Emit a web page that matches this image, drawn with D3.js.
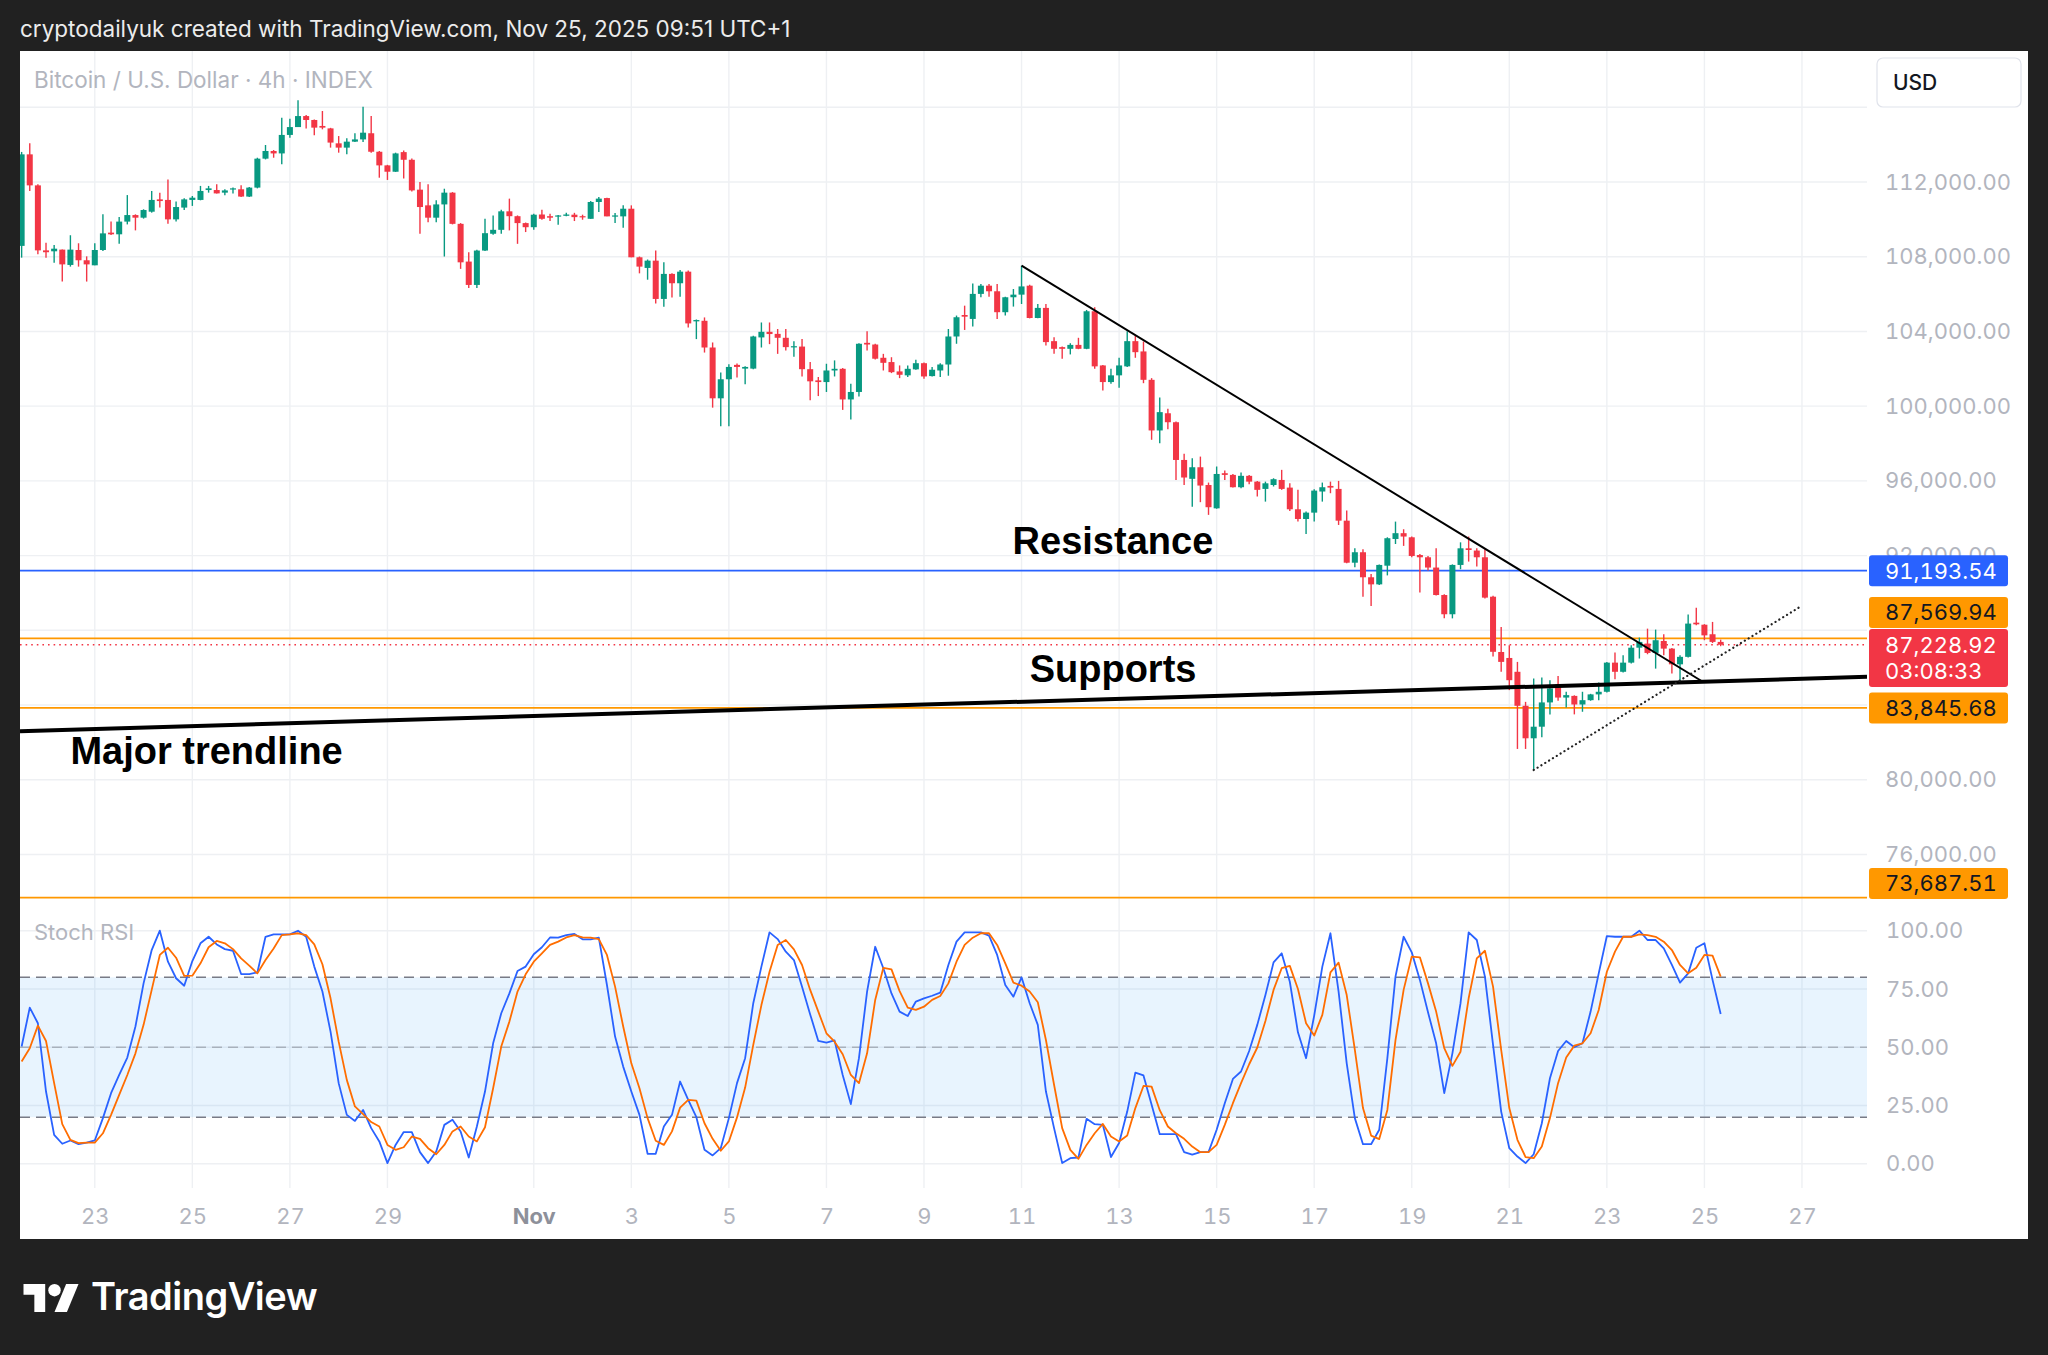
<!DOCTYPE html>
<html>
<head>
<meta charset="utf-8">
<script src="https://cdn.jsdelivr.net/npm/d3@7"></script>
<style>
  html, body { margin: 0; padding: 0; background: #212121; }
  svg { display: block; }
  text { font-family: Inter, "Noto Sans", sans-serif; }
  .num { font-variant-numeric: tabular-nums; font-feature-settings: "tnum"; }
</style>
</head>
<body>
<svg id="chart" width="2048" height="1355"></svg>
<script>
// BTC/USD 4h candles, first one opens Oct 21 2025 12:00
const START = Date.UTC(2025, 9, 21, 12);
const FOUR_H = 4 * 3600 * 1000;

const candleOpen = [
  108580,113480,111820,108340,108290,108380,107560,108360,107810,107540,
  108360,109290,109200,109880,110230,110090,110410,111070,111040,110000,
  110630,111040,111040,111570,111570,111430,111610,111610,111220,111700,
  113250,113660,113530,114520,114940,115530,115320,115000,114870,114070,
  113840,114160,114280,114610,113620,112890,112550,113600,113190,111590,
  110750,110090,110800,111430,109760,107740,106490,108330,109230,109440,
  110430,110170,109800,109580,110260,110170,110170,110190,110250,110170,
  110030,110930,111140,110160,110160,110570,107970,107400,107790,105740,
  107080,106580,107200,104540,104570,103140,100420,101440,102210,102010,
  102010,103680,103980,103870,103660,103160,103190,101980,101380,101290,
  101910,102000,100360,100760,103390,103300,102590,102360,101860,101650,
  101970,102300,101610,101910,102230,103730,104880,104670,106010,106450,
  106150,105030,105830,105970,106450,104720,105260,103480,103160,103070,
  103280,103070,105080,102180,101290,101650,102130,103480,102930,101410,
  98700,99620,99140,97120,96110,96730,95780,94530,96410,96320,
  95660,96270,95960,95570,95780,96050,95640,94480,93960,94300,
  95430,95730,95570,93870,91620,92180,90840,90460,91460,92890,
  93200,92980,92030,91910,91360,89890,88860,91500,92390,92270,
  91910,89800,86840,86520,85780,83960,82220,82840,84140,85100,
  84400,84490,84030,84260,84570,84710,86270,85780,86270,87070,
  87290,86790,87430,87020,86180,86580,88410,88300,87790,87380
];
const candleHigh = [
  113610,114070,111880,108750,108630,108380,109150,108720,108020,108720,
  110270,109880,110130,111300,110270,110540,111520,111430,112140,110950,
  111130,111250,111790,111790,111880,111610,111700,111820,111730,113300,
  113980,113710,115440,115390,116370,115590,115350,115800,114900,114460,
  114340,114610,116030,115530,113660,112920,113570,113690,113260,112000,
  111880,111020,111640,111460,109800,108240,108370,110030,110210,110520,
  111110,110210,109830,110300,110520,110300,110230,110350,110350,110250,
  110980,111200,111160,110340,110750,110750,108010,107850,108330,107700,
  107110,107290,107260,104640,104750,103410,101800,102240,102280,102140,
  103770,104480,104480,104130,104130,103480,103600,102360,101560,102270,
  102450,102040,101200,103370,104010,103340,102800,102620,102180,102180,
  102480,102340,102090,102300,104130,104850,105380,106570,106540,106540,
  106540,105860,106270,107520,106500,105470,105470,103690,103190,103370,
  103660,105150,105290,102210,102000,102590,104010,103780,103460,101500,
  100460,99860,99180,97450,97210,97300,95910,96770,96550,96370,
  96450,96320,96000,95960,96140,96590,95870,95520,94360,95550,
  95910,95960,96000,94410,92390,92340,91020,91530,92980,93820,
  93410,93020,92090,91980,92390,89930,91530,92710,93020,92390,
  92340,89850,88180,87200,86310,84170,85420,85470,85330,85560,
  84710,84520,84710,84600,85210,86310,86810,86670,87200,87610,
  88090,88040,87790,87060,86670,88850,89210,88330,88450,87500
];
const candleLow = [
  107950,111520,108130,107950,107680,106670,107470,107470,106670,107540,
  108310,109160,108700,109730,109410,110040,110360,110630,109770,109880,
  110500,110720,111020,111430,111380,111290,111390,111200,111200,111660,
  113210,113300,112950,114370,114940,114870,114500,114820,113840,113570,
  113480,114140,114140,113570,112230,112110,112540,112190,111490,109230,
  109850,109850,108010,109730,107350,106330,106330,108300,109170,109230,
  109410,108690,109320,109440,109980,109910,109710,110160,109910,109980,
  110030,110390,110160,109800,109550,107970,107110,106770,105500,105320,
  105820,105860,104210,103590,102870,99920,98930,98930,101530,101170,
  101980,103140,103320,102800,102980,102650,101590,100310,100540,100760,
  101590,99800,99280,100520,102980,102500,101910,101770,101500,101560,
  101950,101470,101590,101560,101630,103340,104080,104260,105830,105860,
  104670,104850,105330,105470,104700,104700,103250,102800,102540,102770,
  103050,103050,102000,100840,101200,100990,102100,102590,101230,98200,
  98020,98770,96050,95780,94620,94860,94180,94510,96050,95640,
  95610,95820,95160,94890,95700,95520,94390,93820,93160,93820,
  94890,95340,93640,91590,91370,89800,89300,90430,90940,92620,
  92520,91910,90030,91200,89860,88640,88640,91270,91680,91410,
  89710,86600,85780,84800,81650,81650,80520,82270,83500,84230,
  83870,83500,83640,84230,84260,84670,85380,85740,86220,86490,
  86720,85950,86670,85690,85290,86540,88270,87470,87320,87150
];
const candleClose = [
  113480,111820,108340,108240,108430,107590,108380,107810,107590,108360,
  109250,109200,109880,110230,110090,110500,111040,110980,110000,110660,
  111070,111160,111520,111660,111390,111550,111660,111220,111700,113250,
  113660,113530,114520,114940,115530,115320,114910,114910,114110,113840,
  114160,114280,114640,113620,112890,112550,113530,113190,111550,110660,
  110090,110800,111430,109760,107700,106490,108330,109260,109440,110430,
  110170,109800,109580,110250,110030,110090,110210,110260,110120,110120,
  110930,111110,110160,110210,110570,107970,107470,107790,105740,107080,
  106580,107200,104430,104610,103140,100420,101440,102100,102100,102100,
  103730,103980,103860,103660,103160,103210,101980,101330,101290,101910,
  102000,100360,100760,103340,103300,102540,102320,101820,101680,102000,
  102300,101590,101950,102230,103730,104760,104790,106010,106450,106150,
  105030,105830,105970,106410,104720,105260,103430,103070,103070,103280,
  103070,105080,102130,101290,101650,102180,103480,102890,101410,98700,
  99680,99140,97120,96180,96730,95750,94590,96370,96320,95660,
  96270,95960,95520,95870,96090,95570,94480,93960,94300,95480,
  95660,95640,93870,91620,92180,90840,90460,91500,92930,93200,
  93020,91980,91910,91360,89890,88860,91500,92390,92300,91910,
  89750,86850,86310,85330,83960,82220,82840,84140,84890,84400,
  84530,84030,84260,84570,84710,86270,85780,86270,87070,87380,
  86790,87470,87020,86180,86580,88360,88320,87730,87380,87228.92
];

// Stoch RSI %K and %D, one value per candle
const stochK = [
  50.3,67,60.3,31,12.4,8.6,10,8.4,9.1,10,
  19.6,30.3,38.1,45.6,58.9,77.4,91.7,100,86.7,79.6,
  76.4,87,94.6,97.4,94.1,92.1,91.4,81.4,81.4,82.1,
  97.4,98.4,98.4,98.4,100,97.4,84.6,73.9,56.7,34.6,
  21,18.4,23.1,15.3,9.6,0.3,8.1,13.6,13.6,5,
  0.3,5.3,16.7,18.9,13.9,2.7,16,31,51.7,64.6,
  73.1,82.7,84.6,89.9,92.9,97.1,97,98.1,98.6,96.3,
  96.3,97,76.7,54.6,41.7,31,21,4.3,4.3,16,
  21,35.3,27.4,20,6,3.6,6.7,19.6,34.6,45.3,
  68.9,84.6,99.3,96.4,91,87.4,76,64.1,52.7,52,
  52.9,38.1,25.6,45.3,73.9,93.1,83.9,73.1,65.3,63.4,
  69.6,71,72.1,73.4,85.3,95.3,99.3,99.3,99.3,97.9,
  89.6,76.7,71.7,80,68.9,59.6,31,15.3,0.3,2.4,
  2.7,19.3,17,16.7,2.9,8.9,22.4,39.1,37.9,25.3,
  12.7,12.7,12.7,5,3.9,5,5,14.6,26,36.4,
  39.6,48.4,59.6,72.4,86.4,90.3,78.1,56.4,45.3,63.6,
  84.6,98.9,73.9,43.1,19.6,8.4,8.4,14.6,45.3,80.3,
  97.4,90.7,78.9,65,51.7,30.3,47.4,68.9,99.3,96,
  80.3,51,22.4,6.7,3.1,0.3,4.1,17.4,36.7,48.4,
  52.7,50,51.7,65.3,81.7,97.7,97.4,97.4,97.4,100,
  96,96,92.4,85.3,77.7,81.7,92.7,94.6,78.9,64.3
];
const stochD = [
  43.9,49.6,59.3,52.7,34.6,17,10.3,8.9,9.1,9.1,
  13.1,21,29.6,38.1,47.4,59.6,74.6,89.6,92.7,88.4,
  80.6,80.7,86,92.9,95.6,94.6,92.1,88.1,85,81.7,
  87.4,92.4,98.1,98.4,98.9,98.1,94.1,85.6,71,52.4,
  36,24.6,21.3,17.9,16,8.1,6,7.1,11.7,10.7,
  6.7,4.1,8.1,13.9,16,11.7,9.6,15.7,32.4,50.3,
  61,73.9,81.3,86.7,90.3,93.9,95.3,97.1,98.1,97.1,
  97,96.4,89.6,76,58.9,43.1,32.4,19.6,9.9,8.1,
  13.9,24.1,27.4,27.1,17.4,10.7,5.6,9.6,19.9,32.7,
  51,68.1,82.4,93.9,96,92,85.3,74.6,65.3,56,
  52.4,47,38.1,34.6,47.4,70.3,84.1,83.4,74.1,67,
  66,67.4,70.3,72,77.4,86.7,93.9,97,98.9,98.9,
  93.9,86,77.7,76.4,73.9,69.3,53.1,33.9,15.3,6,
  2.1,8.1,13.1,17.1,11.7,9.6,12.1,23.9,33.4,33.1,
  23,16,13.1,10.7,7.4,5,5,8.1,16.7,26,
  34.6,42.7,49.9,61.3,74.6,83.9,84.9,75,60.3,55,
  63.9,82.1,86.3,72.4,48.9,23.9,12.1,10.6,23.1,53.1,
  74.6,88.9,88.6,77.4,65.3,49.6,42,48.1,71,88.1,
  91.4,76,48.9,23.9,10.3,2.9,2.4,7.4,19.6,34.6,
  45.6,50.7,51.7,56,66,82.4,91,97.4,97.4,98.4,
  98.1,97.4,95.3,91.7,85.3,81.7,84.1,89.6,89.3,80.3
];

const priceGridTicks = [76000, 80000, 84000, 88000, 92000, 96000, 100000, 104000, 108000, 112000, 116000];
// 84k and 88k sit under the level tags, 116k under the currency box
const priceLabelTicks = [76000, 80000, 92000, 96000, 100000, 104000, 108000, 112000];
const stochTicks = [0, 25, 50, 75, 100];
const stochBands = [20, 50, 80];
const dateTicks = ['2025-10-23', '2025-10-25', '2025-10-27', '2025-10-29', '2025-11-01', '2025-11-03',
  '2025-11-05', '2025-11-07', '2025-11-09', '2025-11-11', '2025-11-13', '2025-11-15', '2025-11-17',
  '2025-11-19', '2025-11-21', '2025-11-23', '2025-11-25', '2025-11-27'];

// horizontal levels drawn on the chart
const resistanceLevels = [91193.54];
const supportLevels = [87569.94, 83845.68, 73687.51];
const countdown = '03:08:33';

// drawn trendlines, anchors as [candle index, price]
const resistanceLine = [[123, 107519], [206.6, 85300]];
const majorTrendline = [[-0.2, 82600], [227, 85510]];
const risingDotted = [[186, 80524], [218.8, 89266]];

// text notes, anchors as [candle index, price of baseline]
const notes = [
  { text: 'Resistance', at: [121.9, 92090] },
  { text: 'Supports', at: [124, 85235] },
  { text: 'Major trendline', at: [6, 80846] }
];

const UP = '#089981', DOWN = '#f23645', BLUE = '#2962ff', ORANGE = '#ff9800';
const AXIS_TEXT = '#b2b5be', GRID = '#eef0f3';

const svg = d3.select('#chart');
const plot = { left: 20, right: 1867 };
const pricePane = { top: 51, bottom: 900 };
const stochPane = { top: 903, bottom: 1188 };

const timeAt = k => new Date(START + k * FOUR_H);
const x = d3.scaleUtc().domain([timeAt(-0.2), timeAt(227)]).range([plot.left, plot.right]);
const y = d3.scaleLinear().domain([73563, 119013]).range([pricePane.bottom, pricePane.top]);
const ys = d3.scaleLinear().domain([0, 100]).range([1163.8, 930.7]);
const xi = k => x(timeAt(k));

// frame
svg.append('rect').attr('width', 2048).attr('height', 1355).attr('fill', '#212121');
svg.append('rect').attr('x', 20).attr('y', 51).attr('width', 2008).attr('height', 1188).attr('fill', '#ffffff');

svg.append('text').attr('x', 20).attr('y', 36.5).attr('fill', '#ececec')
  .style('font-size', '22.5px')
  .text('cryptodailyuk created with TradingView.com, Nov 25, 2025 09:51 UTC+1');

const defs = svg.append('defs');
defs.append('clipPath').attr('id', 'clipPrice').append('rect')
  .attr('x', plot.left).attr('y', pricePane.top)
  .attr('width', plot.right - plot.left).attr('height', pricePane.bottom - pricePane.top);
defs.append('clipPath').attr('id', 'clipStoch').append('rect')
  .attr('x', plot.left).attr('y', stochPane.top)
  .attr('width', plot.right - plot.left).attr('height', stochPane.bottom - stochPane.top);

// grid
const dates = dateTicks.map(s => new Date(s + 'T00:00:00Z'));
const grid = svg.append('g');
grid.selectAll('.vgrid').data(dates).enter().append('line')
  .attr('x1', d => x(d)).attr('x2', d => x(d))
  .attr('y1', pricePane.top).attr('y2', stochPane.bottom)
  .attr('stroke', GRID).attr('stroke-width', 1.4);
grid.selectAll('.pgrid').data(priceGridTicks).enter().append('line')
  .attr('x1', plot.left).attr('x2', plot.right)
  .attr('y1', d => y(d)).attr('y2', d => y(d))
  .attr('stroke', GRID).attr('stroke-width', 1.4);
grid.selectAll('.sgrid').data(stochTicks).enter().append('line')
  .attr('x1', plot.left).attr('x2', plot.right)
  .attr('y1', d => ys(d)).attr('y2', d => ys(d))
  .attr('stroke', GRID).attr('stroke-width', 1.4);

// level lines
const price = svg.append('g').attr('clip-path', 'url(#clipPrice)');
const lastPrice = candleClose[candleClose.length - 1];
price.selectAll('.res').data(resistanceLevels).enter().append('line')
  .attr('x1', plot.left).attr('x2', plot.right).attr('y1', d => y(d)).attr('y2', d => y(d))
  .attr('stroke', BLUE).attr('stroke-width', 1.6);
price.selectAll('.sup').data(supportLevels).enter().append('line')
  .attr('x1', plot.left).attr('x2', plot.right).attr('y1', d => y(d)).attr('y2', d => y(d))
  .attr('stroke', ORANGE).attr('stroke-width', 1.8);
price.append('line')
  .attr('x1', plot.left).attr('x2', plot.right).attr('y1', y(lastPrice)).attr('y2', y(lastPrice))
  .attr('stroke', DOWN).attr('stroke-width', 1.6).attr('stroke-dasharray', '1.6 4');

// candles
const candles = candleOpen.map((o, i) => ({
  t: timeAt(i), o: o, h: candleHigh[i], l: candleLow[i], c: candleClose[i]
}));
const step = xi(1) - xi(0);
const bodyW = step * 0.74;
const cg = price.selectAll('.candle').data(candles).enter().append('g')
  .attr('fill', d => d.c >= d.o ? UP : DOWN)
  .attr('stroke', d => d.c >= d.o ? UP : DOWN);
cg.append('line')
  .attr('x1', d => x(d.t)).attr('x2', d => x(d.t))
  .attr('y1', d => y(d.h)).attr('y2', d => y(d.l))
  .attr('stroke-width', 1.4);
cg.append('rect')
  .attr('x', d => x(d.t) - bodyW / 2).attr('width', bodyW)
  .attr('y', d => y(Math.max(d.o, d.c)))
  .attr('height', d => Math.max(1.2, Math.abs(y(d.o) - y(d.c))))
  .attr('stroke', 'none');

// trendlines
const seg = (pts) => d3.line().x(p => xi(p[0])).y(p => y(p[1]))(pts);
price.append('path').attr('d', seg(resistanceLine))
  .attr('fill', 'none').attr('stroke', '#000').attr('stroke-width', 2);
price.append('path').attr('d', seg(majorTrendline))
  .attr('fill', 'none').attr('stroke', '#000').attr('stroke-width', 4);
price.append('path').attr('d', seg(risingDotted))
  .attr('fill', 'none').attr('stroke', '#222').attr('stroke-width', 2.2)
  .attr('stroke-linecap', 'round').attr('stroke-dasharray', '0.1 4.4');

price.selectAll('.note').data(notes).enter().append('text')
  .attr('x', d => xi(d.at[0])).attr('y', d => y(d.at[1]))
  .attr('fill', '#000')
  .style('font-family', '"Liberation Sans", Arial, sans-serif')
  .style('font-weight', 700).style('font-size', '38px')
  .text(d => d.text);

svg.append('text').attr('x', 34).attr('y', 88).attr('fill', AXIS_TEXT)
  .style('font-size', '22.5px').text('Bitcoin / U.S. Dollar · 4h · INDEX');

// stoch rsi pane
const stoch = svg.append('g').attr('clip-path', 'url(#clipStoch)');
stoch.append('rect')
  .attr('x', plot.left).attr('width', plot.right - plot.left)
  .attr('y', ys(80)).attr('height', ys(20) - ys(80))
  .attr('fill', 'rgba(33,150,243,0.1)');
stoch.selectAll('.band').data(stochBands).enter().append('line')
  .attr('x1', plot.left).attr('x2', plot.right).attr('y1', d => ys(d)).attr('y2', d => ys(d))
  .attr('stroke', d => d === 50 ? 'rgba(120,123,134,0.5)' : '#787b86')
  .attr('stroke-width', 1.6).attr('stroke-dasharray', '10 6');
const stochLine = d3.line().x((d, i) => xi(i)).y(d => ys(d));
stoch.append('path').attr('d', stochLine(stochK))
  .attr('fill', 'none').attr('stroke', BLUE).attr('stroke-width', 1.8).attr('stroke-linejoin', 'round');
stoch.append('path').attr('d', stochLine(stochD))
  .attr('fill', 'none').attr('stroke', '#ff6d00').attr('stroke-width', 1.8).attr('stroke-linejoin', 'round');

svg.append('text').attr('x', 34).attr('y', 940).attr('fill', AXIS_TEXT)
  .style('font-size', '22px').text('Stoch RSI');

// axes
const fmt = d3.format(',.2f');
const priceAxis = svg.append('g').attr('transform', 'translate(1885,0)')
  .call(d3.axisRight(y).tickValues(priceLabelTicks).tickFormat(fmt).tickSize(0).tickPadding(0));
const stochAxis = svg.append('g').attr('transform', 'translate(1886,0)')
  .call(d3.axisRight(ys).tickValues(stochTicks).tickFormat(fmt).tickSize(0).tickPadding(0));
const timeAxis = svg.append('g').attr('transform', 'translate(0,' + stochPane.bottom + ')')
  .call(d3.axisBottom(x).tickValues(dates).tickSize(0).tickPadding(0)
    .tickFormat(d => d.getUTCDate() === 1 ? d3.utcFormat('%b')(d) : d.getUTCDate()));
[priceAxis, stochAxis, timeAxis].forEach(a => {
  a.select('.domain').remove();
  a.selectAll('text').attr('fill', AXIS_TEXT).attr('class', 'num')
    .style('font-family', 'Inter, "Noto Sans", sans-serif').style('font-size', '22px');
});
timeAxis.selectAll('text').attr('y', 28).attr('dy', '0.35em')
  .style('font-weight', d => d.getUTCDate() === 1 ? 700 : 400)
  .attr('fill', d => d.getUTCDate() === 1 ? '#8d909a' : AXIS_TEXT);

// price tags on the scale: the live price one stays, the others move out of its way
const boxH = 31;
const live = { top: y(lastPrice) - 15.7, h: 58 };
const levelTags = resistanceLevels.map(p => ({ p: p, fill: BLUE, ink: '#ffffff' }))
  .concat(supportLevels.map(p => ({ p: p, fill: ORANGE, ink: '#131722' })));
levelTags.forEach(tg => {
  let top = y(tg.p) - boxH / 2;
  if (top < live.top + live.h + 1 && top + boxH > live.top - 1) {
    top = y(tg.p) < y(lastPrice) ? live.top - 1 - boxH : live.top + live.h + 1;
  }
  top = Math.min(top, pricePane.bottom - 1 - boxH);
  tg.top = top;
});
const tags = svg.append('g');
const tagX = 1869, tagW = 139;
levelTags.forEach(tg => {
  tags.append('rect').attr('x', tagX).attr('y', tg.top).attr('width', tagW).attr('height', boxH)
    .attr('rx', 3).attr('fill', tg.fill);
  tags.append('text').attr('class', 'num').attr('x', 1885).attr('y', tg.top + boxH / 2).attr('dy', '0.36em')
    .attr('fill', tg.ink).style('font-size', '22px').text(fmt(tg.p));
});
tags.append('rect').attr('x', tagX).attr('y', live.top).attr('width', tagW).attr('height', live.h)
  .attr('rx', 3).attr('fill', DOWN);
tags.append('text').attr('class', 'num').attr('x', 1885).attr('y', y(lastPrice)).attr('dy', '0.36em')
  .attr('fill', '#fff').style('font-size', '22px').text(fmt(lastPrice));
tags.append('text').attr('class', 'num').attr('x', 1885).attr('y', y(lastPrice) + 26.5).attr('dy', '0.36em')
  .attr('fill', '#fff').style('font-size', '22px').text(countdown);

// currency box
svg.append('rect').attr('x', 1877).attr('y', 58).attr('width', 144).attr('height', 49)
  .attr('rx', 6).attr('fill', '#fff').attr('stroke', '#e0e3eb').attr('stroke-width', 1.2);
svg.append('text').attr('x', 1893).attr('y', 90).attr('fill', '#131722')
  .style('font-size', '21px').style('font-weight', 500).text('USD');

// TradingView logo in the footer
const logo = svg.append('g').attr('transform', 'translate(23.5,1277.8) scale(1.55)').attr('fill', '#fff');
logo.append('path').attr('d', 'M14 22H7V11H0V4h14v18z');
logo.append('path').attr('d', 'M28 22h-8l7.5-18h8L28 22z');
logo.append('circle').attr('cx', 20).attr('cy', 8).attr('r', 4);
svg.append('text').attr('x', 91).attr('y', 1310).attr('fill', '#fff')
  .style('font-size', '38px').style('font-weight', 600).style('letter-spacing', '-0.5px')
  .text('TradingView');
</script>
</body>
</html>
